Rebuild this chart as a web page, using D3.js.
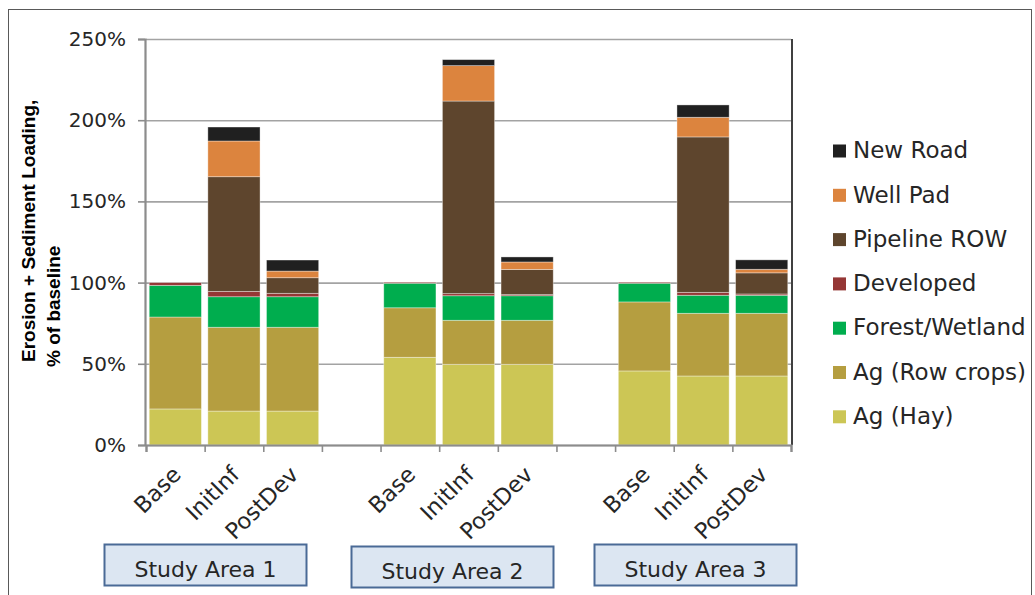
<!DOCTYPE html>
<html>
<head>
<meta charset="utf-8">
<script src="https://cdn.jsdelivr.net/npm/d3@7"></script>
<style>
  html, body { margin: 0; padding: 0; background: #fff; }
  svg { display: block; }
</style>
</head>
<body>
<svg id="chart" width="1035" height="595"></svg>
<script>
// ---- data -------------------------------------------------------------
const studyAreas = ["Study Area 1", "Study Area 2", "Study Area 3"];
const scenarios = ["Base", "InitInf", "PostDev"];
const yTicks = [0, 50, 100, 150, 200, 250];

// Stacked components, % of baseline; one value per bar
// (order: Area 1 Base/InitInf/PostDev, Area 2 ..., Area 3 ...)
const agHay      = [22.2, 20.9, 20.9, 54.0, 49.7, 49.7, 45.6, 42.5, 42.5];
const agRowCrops = [56.6, 51.6, 51.6, 30.5, 27.1, 27.1, 42.5, 38.6, 38.6];
const forestWet  = [19.5, 18.8, 18.8, 15.1, 15.1, 15.1, 11.5, 11.1, 11.1];
const developed  = [ 1.7,  3.3,  2.1,  0.6,  1.3,  0.7,  0.6,  1.8,  0.8];
const pipeline   = [ 0.0, 70.6,  9.6,  0.0, 118.6, 15.5, 0.0, 95.7, 13.0];
const wellPad    = [ 0.0, 22.0,  4.1,  0.0, 21.8,  4.6,  0.0, 12.1,  2.2];
const newRoad    = [ 0.0,  8.6,  6.8,  0.0,  3.7,  3.1,  0.0,  7.6,  5.8];

const seriesNames = ["Ag (Hay)", "Ag (Row crops)", "Forest/Wetland", "Developed",
                     "Pipeline ROW", "Well Pad", "New Road"];
const seriesValues = [agHay, agRowCrops, forestWet, developed, pipeline, wellPad, newRoad];
const seriesColors = ["#CCC655", "#B59E40", "#00AD4E", "#953735", "#5E452D", "#DC843E", "#202020"];

// ---- layout -----------------------------------------------------------
const plot = { left: 146, right: 791, top: 39, bottom: 445 };
const uiFont = "'DejaVu Sans', sans-serif";

const svg = d3.select("#chart");

// outer frame
svg.append("rect")
  .attr("x", 8.5).attr("y", 9.5).attr("width", 1023).attr("height", 600)
  .attr("fill", "none").attr("stroke", "#595959").attr("stroke-width", 1);

// rows for the stack: one per bar
const rows = [];
studyAreas.forEach((area, a) => {
  scenarios.forEach((sc, s) => {
    const i = a * scenarios.length + s;
    const row = { slot: a * (scenarios.length + 1) + s, area, scenario: sc };
    seriesNames.forEach((name, k) => { row[name] = seriesValues[k][i]; });
    rows.push(row);
  });
});

// 11 slots: three bars per area plus an empty slot between areas
const slotCount = studyAreas.length * (scenarios.length + 1) - 1;
const x = d3.scaleBand()
  .domain(d3.range(slotCount))
  .range([plot.left, plot.right])
  .paddingInner(0.11)
  .paddingOuter(0.055);

const y = d3.scaleLinear().domain([0, 250]).range([plot.bottom, plot.top]);

// gridlines
svg.append("g")
  .attr("transform", `translate(${plot.left},0)`)
  .call(d3.axisLeft(y).tickValues(yTicks).tickSize(-(plot.right - plot.left)).tickFormat(""))
  .call(g => g.select(".domain").remove())
  .call(g => g.selectAll("line").attr("stroke", "#A3A3A3").attr("stroke-width", 1.6));

// stacked bars
const stack = d3.stack().keys(seriesNames);
const layers = stack(rows);

svg.append("g").selectAll("g")
  .data(layers)
  .join("g")
    .attr("fill", (d, i) => seriesColors[i])
  .selectAll("rect")
  .data(d => d.filter(p => p[1] - p[0] > 0))
  .join("rect")
    .attr("x", p => x(p.data.slot))
    .attr("width", x.bandwidth())
    .attr("y", p => y(p[1]))
    .attr("height", p => y(p[0]) - y(p[1]))
    .attr("stroke", "rgba(255,255,255,0.45)")
    .attr("stroke-width", 0.8);

// right edge of plot area
svg.append("line")
  .attr("x1", plot.right + 1).attr("x2", plot.right + 1)
  .attr("y1", plot.top).attr("y2", plot.bottom)
  .attr("stroke", "#404040").attr("stroke-width", 2);

// y axis
const yAxis = svg.append("g")
  .attr("transform", `translate(${plot.left - 1},0)`)
  .call(d3.axisLeft(y).tickValues(yTicks).tickFormat(d => d + "%").tickSize(7).tickPadding(12));
yAxis.select(".domain").attr("stroke", "#8C8C8C").attr("stroke-width", 2.2);
yAxis.selectAll(".tick line").attr("stroke", "#8C8C8C").attr("stroke-width", 1.6);
yAxis.selectAll("text")
  .attr("font-family", uiFont).attr("font-size", 20).attr("fill", "#262626");

// x axis: ticks at slot boundaries
const xEdge = d3.scaleLinear().domain([0, slotCount]).range([plot.left, plot.right]);
const xAxis = svg.append("g")
  .attr("transform", `translate(0,${plot.bottom})`)
  .call(d3.axisBottom(xEdge).tickValues(d3.range(slotCount + 1)).tickSize(7).tickFormat(""));
xAxis.select(".domain").attr("stroke", "#8C8C8C").attr("stroke-width", 2.2);
xAxis.selectAll(".tick line").attr("stroke", "#8C8C8C").attr("stroke-width", 1.6);

// category labels, rotated
svg.append("g").selectAll("text")
  .data(rows)
  .join("text")
    .attr("transform", d => `translate(${x(d.slot) + x.bandwidth() / 2 + 7},476) rotate(-45)`)
    .attr("text-anchor", "end")
    .attr("font-family", uiFont)
    .attr("font-size", 22.5)
    .attr("fill", "#262626")
    .text(d => d.scenario);

// y axis title
const title = svg.append("text")
  .attr("transform", "translate(0,0) rotate(-90)")
  .attr("font-family", "'Liberation Sans', Arial, sans-serif")
  .attr("font-weight", "bold")
  .attr("font-size", 19)
  .attr("fill", "#000");
title.append("tspan").attr("x", -362).attr("y", 35).text("Erosion + Sediment Loading,");
title.append("tspan").attr("x", -367).attr("y", 60).text("% of baseline");

// legend (top to bottom: last series first)
const legendOrder = seriesNames.map((n, i) => i).reverse();
const legend = svg.append("g").selectAll("g")
  .data(legendOrder)
  .join("g")
    .attr("transform", (d, j) => `translate(833,${151 + j * 44.3})`);
legend.append("rect")
  .attr("x", 0).attr("y", -6.5).attr("width", 13).attr("height", 13)
  .attr("fill", d => seriesColors[d]);
legend.append("text")
  .attr("x", 20).attr("y", -1).attr("dy", "0.36em")
  .attr("font-family", uiFont).attr("font-size", 23).attr("fill", "#262626")
  .text(d => seriesNames[d]);

// study area boxes
const boxLefts = [104, 351, 594];
const boxTops = [544, 546, 544];
const box = svg.append("g").selectAll("g")
  .data(studyAreas)
  .join("g")
    .attr("transform", (d, i) => `translate(${boxLefts[i]},${boxTops[i]})`);
box.append("rect")
  .attr("x", 0.5).attr("y", 0.5).attr("width", 202).attr("height", 41)
  .attr("fill", "#DCE6F2").attr("stroke", "#4A6A96").attr("stroke-width", 2);
box.append("text")
  .attr("x", 101.5).attr("y", 33)
  .attr("text-anchor", "middle")
  .attr("font-family", uiFont).attr("font-size", 22).attr("fill", "#262626")
  .text(d => d);
</script>
</body>
</html>
